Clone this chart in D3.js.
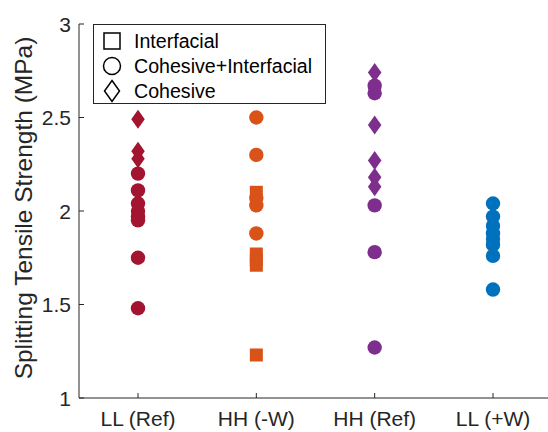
<!DOCTYPE html>
<html><head><meta charset="utf-8">
<script src="https://cdn.jsdelivr.net/npm/d3@7"></script>
<style>body{margin:0;background:#fff}svg{display:block}</style>
</head><body>
<svg id="c" width="548" height="432"></svg>
<script>
const categories = ["LL (Ref)", "HH (-W)", "HH (Ref)", "LL (+W)"];
const colors = ["#A2142F", "#D95319", "#7E2F8E", "#0072BD"];
const yTicks = [1, 1.5, 2, 2.5, 3];
const yTickLabels = ["1", "1.5", "2", "2.5", "3"];
const legendLabels = ["Interfacial", "Cohesive+Interfacial", "Cohesive"];

// values per category (index matches categories)
const interfacial = [[], [2.10, 1.77, 1.74, 1.71, 1.23], [], []];
const cohesiveInterfacial = [
  [2.20, 2.11, 2.04, 2.00, 1.97, 1.95, 1.75, 1.48],
  [2.50, 2.30, 2.07, 2.03, 1.88],
  [2.67, 2.63, 2.03, 1.78, 1.27],
  [2.04, 1.97, 1.92, 1.88, 1.85, 1.82, 1.76, 1.58]
];
const cohesive = [[2.49, 2.32, 2.28], [], [2.74, 2.46, 2.27, 2.18, 2.13], []];

const svg = d3.select("#c");
const axisColor = "#262626";
const font = "'Liberation Sans', Arial, sans-serif";

const x = d3.scalePoint().domain(categories).range([138, 493]);
const y = d3.scaleLinear().domain([1, 3]).range([398, 24]);
const left = 79, right = 548;

// axes lines
svg.append("line").attr("x1", left).attr("x2", left).attr("y1", y(3)).attr("y2", y(1))
  .attr("stroke", axisColor).attr("stroke-width", 1);
svg.append("line").attr("x1", left).attr("x2", right).attr("y1", y(1)).attr("y2", y(1))
  .attr("stroke", axisColor).attr("stroke-width", 1);

// y ticks
yTicks.forEach((t, i) => {
  svg.append("line").attr("x1", left).attr("x2", left + 5).attr("y1", y(t)).attr("y2", y(t))
    .attr("stroke", axisColor);
  svg.append("text").attr("x", left - 8).attr("y", y(t)).attr("dy", "0.36em")
    .attr("text-anchor", "end").attr("font-family", font).attr("font-size", 21)
    .attr("fill", axisColor).text(yTickLabels[i]);
});
// x ticks
categories.forEach(c => {
  svg.append("line").attr("x1", x(c)).attr("x2", x(c)).attr("y1", y(1)).attr("y2", y(1) - 5)
    .attr("stroke", axisColor);
  svg.append("text").attr("x", x(c)).attr("y", 426)
    .attr("text-anchor", "middle").attr("font-family", font).attr("font-size", 21)
    .attr("fill", axisColor).text(c);
});

// y label
svg.append("text").attr("transform", "translate(32,208) rotate(-90)")
  .attr("text-anchor", "middle").attr("font-family", font).attr("font-size", 24.5)
  .attr("fill", axisColor).text("Splitting Tensile Strength (MPa)");

function diamondPath(cx, cy, w, h) {
  return `M${cx},${cy - h / 2}L${cx + w / 2},${cy}L${cx},${cy + h / 2}L${cx - w / 2},${cy}Z`;
}

const g = svg.append("g");
categories.forEach((c, i) => {
  const col = colors[i];
  interfacial[i].forEach(v => {
    g.append("rect").attr("x", x(c) - 6.5).attr("y", y(v) - 6.5).attr("width", 13).attr("height", 13)
      .attr("fill", col);
  });
  cohesiveInterfacial[i].forEach(v => {
    g.append("circle").attr("cx", x(c)).attr("cy", y(v)).attr("r", 7.2).attr("fill", col);
  });
  cohesive[i].forEach(v => {
    g.append("path").attr("d", diamondPath(x(c), y(v), 13.5, 19)).attr("fill", col);
  });
});

// legend
const lg = svg.append("g");
lg.append("rect").attr("x", 93.5).attr("y", 24.5).attr("width", 232).attr("height", 79)
  .attr("fill", "#fff").attr("stroke", axisColor).attr("stroke-width", 1);
const rowsY = [41, 66, 91];
const mx = 112;
lg.append("rect").attr("x", mx - 8).attr("y", rowsY[0] - 8).attr("width", 16).attr("height", 16)
  .attr("fill", "none").attr("stroke", "#000").attr("stroke-width", 1.5);
lg.append("circle").attr("cx", mx).attr("cy", rowsY[1]).attr("r", 8.5)
  .attr("fill", "none").attr("stroke", "#000").attr("stroke-width", 1.5);
lg.append("path").attr("d", diamondPath(mx, rowsY[2], 15, 21))
  .attr("fill", "none").attr("stroke", "#000").attr("stroke-width", 1.5);
legendLabels.forEach((t, i) => {
  lg.append("text").attr("x", 134).attr("y", rowsY[i]).attr("dy", "0.36em")
    .attr("font-family", font).attr("font-size", 19.6).attr("fill", "#000").text(t);
});
</script>
</body></html>
